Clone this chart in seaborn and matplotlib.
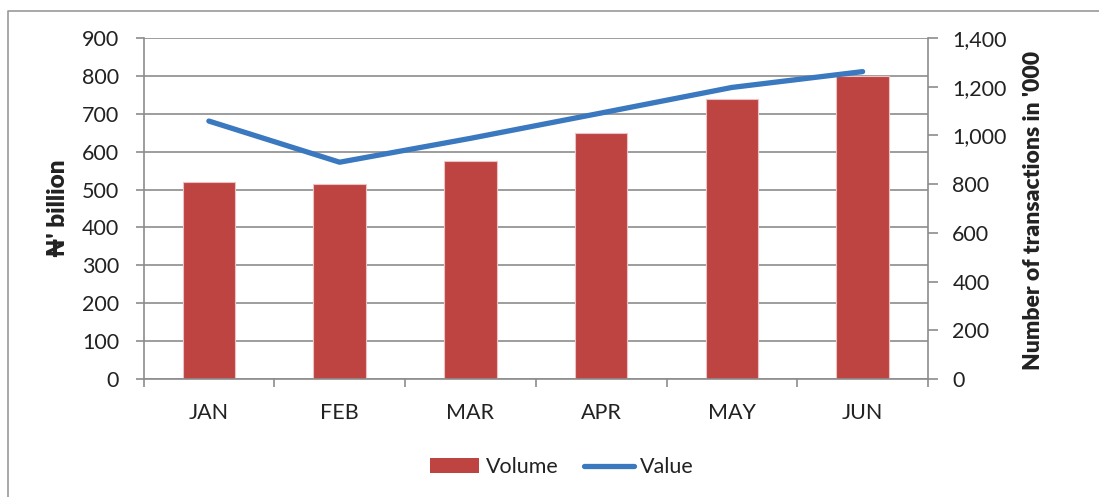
import matplotlib
matplotlib.use("Agg")
import matplotlib.pyplot as plt
from matplotlib.lines import Line2D
from matplotlib.patches import Patch
from matplotlib.ticker import FuncFormatter, MultipleLocator, FixedLocator
import seaborn as sns
import pandas as pd

# Monthly figures
months = ["JAN", "FEB", "MAR", "APR", "MAY", "JUN"]
volume = [521, 515, 576, 648, 740, 801]          # ₦' billion (left axis)
value = [1059, 890, 988, 1092, 1197, 1262]       # transactions in '000 (right axis)

sns.set_theme(style="white")
plt.rcParams["font.family"] = ["Lato", "DejaVu Sans"]

BAR = "#BE4442"
LINE = "#3A78BF"
GRID = "#8C8C8C"
TEXT = "#222222"
FS = 15.5

df = pd.DataFrame({"month": months, "volume": volume, "value": value})

fig = plt.figure(figsize=(10.99, 4.97), dpi=100)
ax = fig.add_axes([143.5 / 1099, 1 - 379 / 497, (928 - 143.5) / 1099, (379 - 38) / 497])

sns.barplot(data=df, x="month", y="volume", color=BAR, width=0.4,
            edgecolor="#EBC3C2", linewidth=0.8, saturation=1, ax=ax, zorder=2)

ax.set_xlim(-0.5, 5.5)
ax.set_ylim(0, 900)
ax.yaxis.set_major_locator(MultipleLocator(100))
ax.set_axisbelow(True)
ax.grid(axis="y", color=GRID, linewidth=1.2, zorder=0)
ax.grid(axis="x", visible=False)
ax.set_xlabel("")
ax.set_ylabel("")

for side in ["top", "right"]:
    ax.spines[side].set_visible(False)
for side in ["left", "bottom"]:
    ax.spines[side].set_color(GRID)
    ax.spines[side].set_linewidth(1.2)

ax.tick_params(axis="y", which="major", direction="out", length=6, width=1.2,
               color=GRID, pad=11.5, labelsize=FS, labelcolor=TEXT, left=True)
ax.tick_params(axis="x", which="major", length=0, pad=17, labelsize=FS, labelcolor=TEXT)
ax.xaxis.set_minor_locator(FixedLocator([i - 0.5 for i in range(len(months) + 1)]))
ax.tick_params(axis="x", which="minor", direction="out", length=6, width=1.2,
               color=GRID, bottom=True)

ax2 = ax.twinx()
sns.lineplot(data=df, x="month", y="value", sort=False, color=LINE, linewidth=3.8,
             solid_capstyle="round", ax=ax2)
ax2.set_ylim(0, 1400)
ax2.set_xlim(-0.5, 5.5)
ax2.yaxis.set_major_locator(MultipleLocator(200))
ax2.yaxis.set_major_formatter(FuncFormatter(lambda v, p: f"{v:,.0f}"))
ax2.set_xlabel("")
ax2.set_ylabel("")
for side in ["top", "left", "bottom"]:
    ax2.spines[side].set_visible(False)
ax2.spines["right"].set_color(GRID)
ax2.spines["right"].set_linewidth(1.2)
ax2.tick_params(axis="y", direction="out", length=7, width=1.2, color=GRID,
                pad=10.5, labelsize=FS, labelcolor=TEXT, right=True)
ax2.grid(False)

fig.text(58 / 1099, 1 - 208 / 497, "\u20a6' billion", rotation=90, ha="center",
         va="center", fontsize=17.5, fontweight="heavy", color=TEXT)
fig.text(1034 / 1099, 1 - 210 / 497, "Number of transactions in '000", rotation=90,
         ha="center", va="center", fontsize=16.5, fontweight="heavy", color=TEXT)

handles = [Patch(facecolor=BAR, edgecolor="none"),
           Line2D([0], [0], color=LINE, linewidth=3.8, solid_capstyle="round")]
fig.legend(handles, ["Volume", "Value"], loc="center",
           bbox_to_anchor=(562 / 1099, 1 - 467 / 497), ncol=2, frameon=False,
           fontsize=FS, handlelength=2.3, handleheight=0.65, handletextpad=0.3,
           columnspacing=1.2, labelcolor=TEXT)

# Chart frame (left and top edges)
fig.add_artist(Line2D([8 / 1099, 8 / 1099, 1.0], [0.0, 1 - 11 / 497, 1 - 11 / 497],
                      transform=fig.transFigure, color="#9A9A9A", linewidth=1.2))

fig.savefig("out.png", dpi=100, facecolor="white")
